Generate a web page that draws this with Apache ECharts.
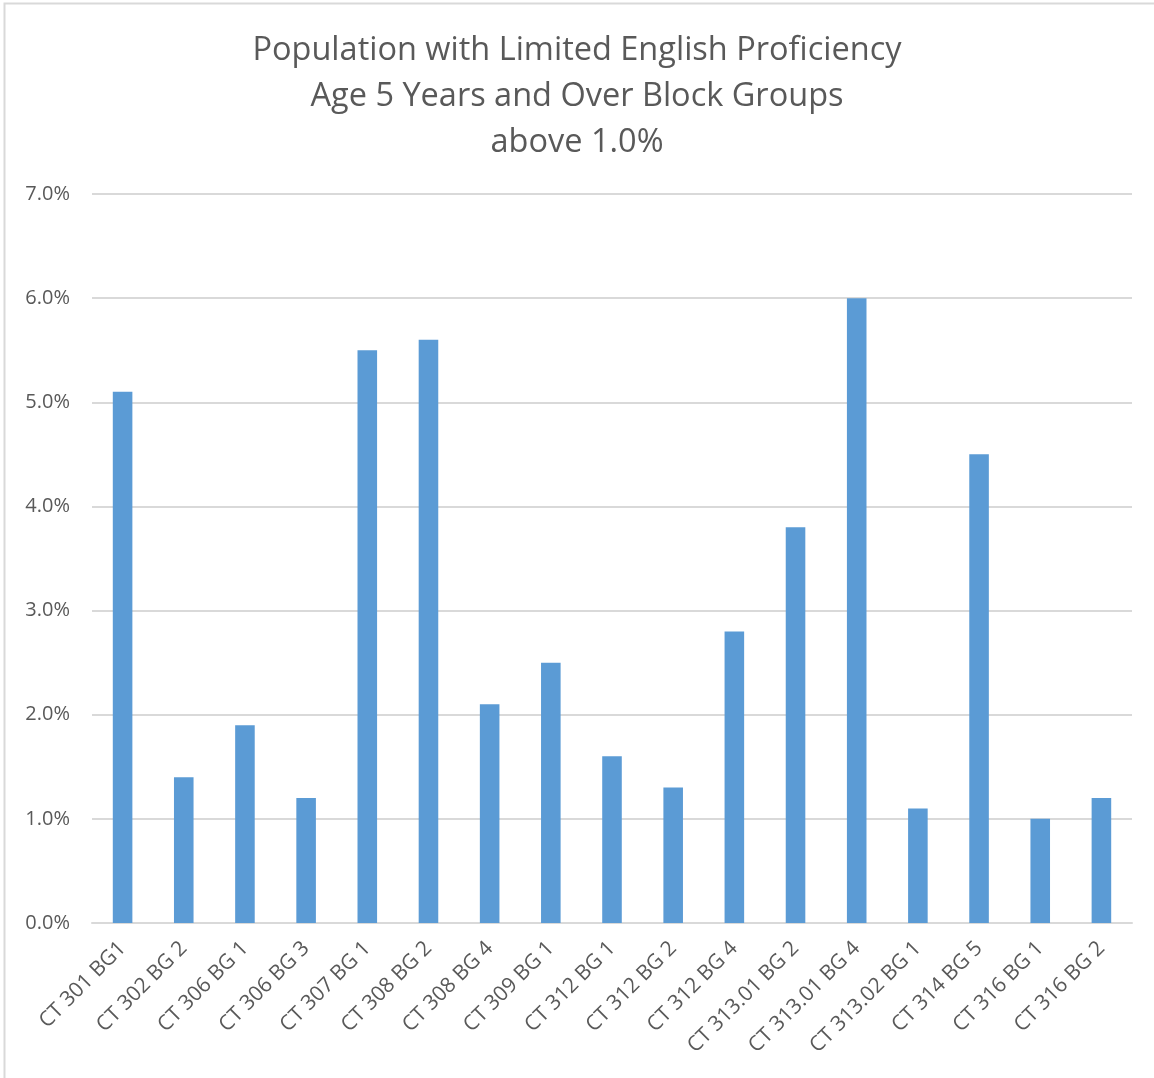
<!DOCTYPE html>
<html><head><meta charset="utf-8">
<script src="https://cdn.jsdelivr.net/npm/echarts@6/dist/echarts.min.js"></script>
<style>html,body{margin:0;padding:0;background:#fff}#c{width:1154px;height:1078px}</style>
</head><body><div id="c"></div>
<script>
const categories = ["CT 301 BG1","CT 302 BG 2","CT 306 BG 1","CT 306 BG 3","CT 307 BG 1","CT 308 BG 2","CT 308 BG 4","CT 309 BG 1","CT 312 BG 1","CT 312 BG 2","CT 312 BG 4","CT 313.01 BG 2","CT 313.01 BG 4","CT 313.02 BG 1","CT 314 BG 5","CT 316 BG 1","CT 316 BG 2"];
const values = [5.1,1.4,1.9,1.2,5.5,5.6,2.1,2.5,1.6,1.3,2.8,3.8,6.0,1.1,4.5,1.0,1.2];
const titleLines = ["Population with Limited English Proficiency","Age 5 Years and Over Block Groups","above 1.0%"];
const font = "Open Sans";
const chart = echarts.init(document.getElementById('c'));
chart.setOption({
  animation:false,
  title:{text:titleLines.join("\n"),left:'center',top:23,textStyle:{fontFamily:font,fontSize:32.5,fontWeight:'normal',color:'#595959',lineHeight:46}},
  graphic:[{type:'rect',shape:{x:4.5,y:3.5,width:1160,height:1090},style:{fill:'none',stroke:'#d9d9d9',lineWidth:2},silent:true}],
  grid:{left:92,right:22,top:194,bottom:155,containLabel:false},
  xAxis:{type:'category',data:categories,
    axisLine:{lineStyle:{color:'#d9d9d9',width:2}},axisTick:{show:false},
    axisLabel:{rotate:45,interval:0,fontFamily:font,fontSize:21,color:'#595959',margin:22}},
  yAxis:{type:'value',min:0,max:7,interval:1,
    axisLine:{show:false},axisTick:{show:false},
    splitLine:{lineStyle:{color:'#d9d9d9',width:2}},
    axisLabel:{formatter:v=>v.toFixed(1)+'%',fontFamily:font,fontSize:20,color:'#595959',margin:22}},
  series:[{type:'bar',data:values,barWidth:'32%',itemStyle:{color:'#5b9bd5'}}]
});
</script></body></html>
